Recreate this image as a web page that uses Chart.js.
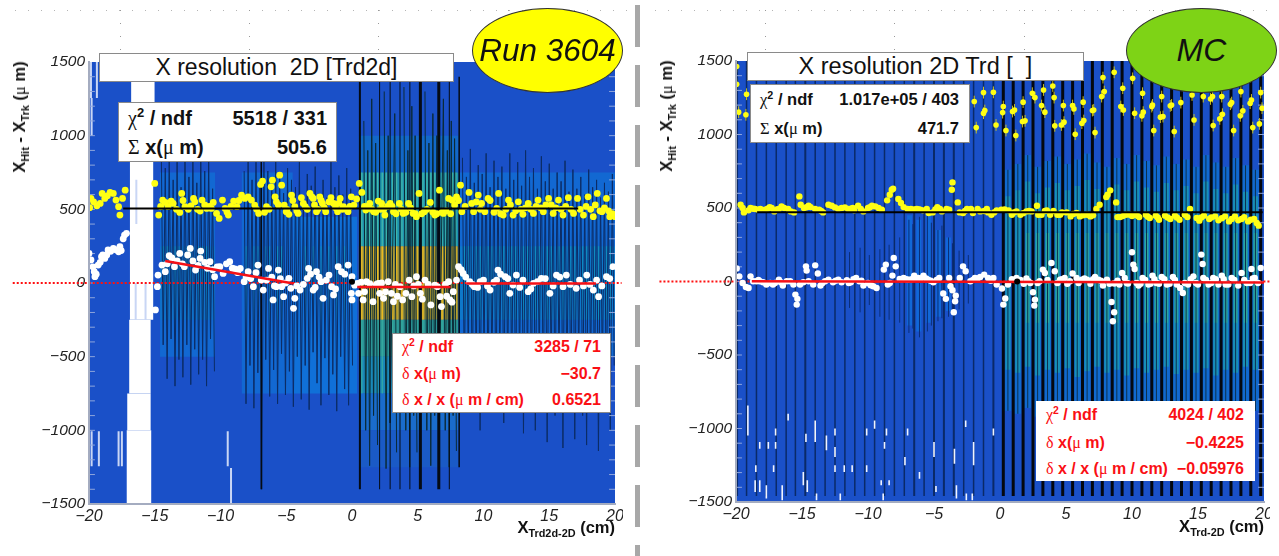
<!DOCTYPE html>
<html><head><meta charset="utf-8">
<script src="https://cdn.jsdelivr.net/npm/chart.js@4/dist/chart.umd.js"></script>
<style>
html,body{margin:0;padding:0;background:#fff;width:1279px;height:556px;overflow:hidden;font-family:"Liberation Sans",sans-serif}
.wrap{position:absolute;top:0;height:556px;overflow:hidden}
canvas{filter:blur(0.45px)}
.box{position:absolute;background:#fff;box-sizing:border-box;border:1px solid #8a8a8a;white-space:nowrap}
.title{display:flex;align-items:center;justify-content:center;color:#111;white-space:pre}
.row{position:absolute;left:0;right:0;font-weight:bold;line-height:1}
.row .l{position:absolute}.row .r{position:absolute}
.s{font-family:"Liberation Serif",serif;font-weight:normal}
sup{font-size:65%;line-height:0}
sub{font-size:66%;line-height:0}
.ell{position:absolute;border-radius:50%;box-sizing:border-box;border:1px solid #333;display:flex;align-items:center;justify-content:center;font-style:italic;color:#111}
.yt{position:absolute;transform:translate(-50%,-50%) rotate(-90deg);font-weight:bold;font-size:16.5px;white-space:nowrap;color:#111}
.xt{position:absolute;font-weight:bold;font-size:16.5px;white-space:nowrap;color:#111;text-align:right}
.div{position:absolute;left:635px;top:5px;width:5px;height:551px;background:repeating-linear-gradient(to bottom,#a8a8a8 0 42px,#fff 42px 60px)}
.dots{position:absolute;top:10px;height:1px;background:repeating-linear-gradient(to right,#b5b5b5 0 1px,transparent 1px 13px)}
.dotc{position:absolute;width:1px;height:40px;top:10px;background:repeating-linear-gradient(to bottom,#999 0 1px,transparent 1px 13px)}
</style></head><body>
<div class="wrap" style="left:0;width:623px"><canvas id="cL" width="632" height="556"></canvas></div>
<div class="wrap" style="left:640px;width:630px"><canvas id="cR" width="639" height="556"></canvas></div>
<div class="div"></div>
<div class="dots" style="left:15px;width:615px"></div><div class="dots" style="left:655px;width:620px"></div>
<div class="dotc" style="left:120px"></div><div class="dotc" style="left:249px"></div><div class="dotc" style="left:378px"></div><div class="dotc" style="left:508px"></div>
<div class="dotc" style="left:765px"></div><div class="dotc" style="left:894px"></div><div class="dotc" style="left:1024px"></div><div class="dotc" style="left:1153px"></div>

<div class="box title" style="left:99px;top:53px;width:355px;height:29px;font-size:23px">X resolution  2D [Trd2d]</div>
<div class="box title" style="left:747px;top:52px;width:337px;height:29px;font-size:23.5px">X resolution 2D Trd [  ]</div>
<div class="ell" style="left:472px;top:8px;width:151px;height:85px;background:#ffff00;font-size:31.5px">Run 3604</div>
<div class="ell" style="left:1126px;top:8px;width:151px;height:85px;background:#7ed316;font-size:32px">MC</div>

<div class="box" style="left:118px;top:102px;width:219px;height:60px;color:#111;font-size:20px">
 <div class="row" style="top:5px"><span class="l" style="left:9px"><span class="s">χ</span><sup>2</sup> / ndf</span><span class="r" style="right:9px">5518 / 331</span></div>
 <div class="row" style="top:34px"><span class="l" style="left:9px"><span class="s">Σ</span> x(<span class="s">μ</span> m)</span><span class="r" style="right:9px">505.6</span></div>
</div>
<div class="box" style="left:750px;top:84px;width:220px;height:59px;color:#111;font-size:16.5px">
 <div class="row" style="top:6px"><span class="l" style="left:9px"><span class="s">χ</span><sup>2</sup> / ndf</span><span class="r" style="right:10px">1.017e+05 / 403</span></div>
 <div class="row" style="top:35px"><span class="l" style="left:9px"><span class="s">Σ</span> x(<span class="s">μ</span> m)</span><span class="r" style="right:10px">471.7</span></div>
</div>
<div class="box" style="left:392px;top:333px;width:219px;height:80px;color:#fa0f14;font-size:16px">
 <div class="row" style="top:5px"><span class="l" style="left:9px"><span class="s">χ</span><sup>2</sup> / ndf</span><span class="r" style="right:9px">3285 / 71</span></div>
 <div class="row" style="top:32px"><span class="l" style="left:9px"><span class="s">δ</span> x(<span class="s">μ</span> m)</span><span class="r" style="right:9px">−30.7</span></div>
 <div class="row" style="top:58px"><span class="l" style="left:9px"><span class="s">δ</span> x / x (<span class="s">μ</span> m / cm)</span><span class="r" style="right:9px">0.6521</span></div>
</div>
<div class="box" style="left:1036px;top:401px;width:219px;height:80px;color:#fa0f14;font-size:16px;border-color:#fff">
 <div class="row" style="top:5px"><span class="l" style="left:9px"><span class="s">χ</span><sup>2</sup> / ndf</span><span class="r" style="right:10px">4024 / 402</span></div>
 <div class="row" style="top:33px"><span class="l" style="left:9px"><span class="s">δ</span> x(<span class="s">μ</span> m)</span><span class="r" style="right:10px">−0.4225</span></div>
 <div class="row" style="top:59px"><span class="l" style="left:9px"><span class="s">δ</span> x / x (<span class="s">μ</span> m / cm)</span><span class="r" style="right:10px">−0.05976</span></div>
</div>

<div class="yt" style="left:20px;top:117px">X<sub>Hit</sub> - X<sub>Trk</sub> (<span class="s">μ</span> m)</div>
<div class="yt" style="left:667px;top:116px">X<sub>Hit</sub> - X<sub>Trk</sub> (<span class="s">μ</span> m)</div>
<div class="xt" style="right:664px;top:518px">X<sub>Trd2d-2D</sub> (cm)</div>
<div class="xt" style="right:15px;top:517px">X<sub>Trd-2D</sub> (cm)</div>

<script>
/* ---------- LEFT PANEL: Run 3604 ---------- */
const leftYellowX=[-19.95,-19.85,-19.65,-19.4,-19.15,-19,-18.8,-18.6,-18.4,-18.15,-17.95,-17.75,-17.65,-17.45,-17.25,-15,-14.7,-14.4,-14.2,-13.75,-13.6,-13.1,-12.95,-12.7,-12.25,-12.05,-11.95,-11.55,-11.4,-11.05,-10.7,-10.55,-10.3,-10.1,-9.85,-9.65,-9.4,-9,-8.75,-8.4,-8.15,-7.9,-7.65,-7.4,-7.1,-6.95,-6.8,-6.5,-6.15,-6.05,-5.85,-5.75,-5.5,-5.35,-5.15,-5,-4.8,-4.6,-4.35,-4.1,-3.85,-3.55,-3.2,-2.95,-2.7,-2.45,-2.25,-2,-1.6,-1.4,-1.1,-0.9,-0.65,-0.3,-0.05,0.15,0.55,0.75,1.05,1.35,1.65,2,2.25,2.5,2.9,3.15,3.6,3.9,4.3,4.65,4.9,5.1,5.5,5.95,6.3,6.65,6.95,7.35,7.6,7.95,8.25,8.35,8.9,9.25,9.6,9.85,10.1,10.35,11,11.15,11.5,11.9,12.25,12.65,13,13.4,13.8,14.15,14.55,14.95,15.3,15.7,16.05,16.45,16.85,17.15,17.6,17.95,18.35,18.65,19,19.35,19.6,20];
const leftYellowY=[511,574,551,524,540,608,574,592,615,608,563,518,461,574,630,676,461,563,547,556,540,479,608,518,524,574,551,488,563,506,506,547,472,438,563,506,461,556,518,597,574,585,563,529,472,669,692,518,653,698,585,551,732,664,529,484,466,597,518,472,579,518,608,574,484,585,540,484,579,540,484,574,518,484,585,529,676,615,495,540,484,556,540,461,540,484,540,472,540,472,450,608,484,547,461,630,472,574,563,585,664,484,615,484,597,540,484,574,506,608,461,563,461,551,466,540,472,563,484,574,472,563,461,579,472,574,461,585,450,608,484,574,450,450];
const leftYellowMoreX=[-14.55,-14,-13.35,-12.85,-12.45,-11.75,-11.2,-10.85,-9.5,-9.2,-8.6,-7.25,-6.65,-6.3,-5.6,-4.95,-4.5,-4.2,-3.7,-3.4,-3.05,-2.85,-2.6,-2.35,-2.1,-1.75,-1.25,-1,-0.75,-0.45,-0.15,0.35,0.95,1.2,1.5,1.8,2.15,2.4,2.7,3.05,3.35,3.75,4.1,4.45,4.8,5.3,5.7,6.15,6.45,6.85,7.15,7.5,7.8,8.1,8.6,9.1,9.45,9.75,10.5,10.8,11.3,11.7,12.05,12.45,12.85,13.2,13.6,14,14.35,14.75,15.15,15.5,15.9,16.25,16.65,17.35,17.8,18.15,18.5,18.85,19.2,19.5,19.8];
const leftYellowMoreY=[520,520,500,560,500,500,530,520,480,520,560,500,480,500,530,500,560,490,540,500,585,530,500,560,510,550,510,540,500,500,520,570,520,520,500,480,500,500,520,520,470,500,480,510,470,470,500,480,470,480,490,470,530,560,520,540,550,500,560,480,470,500,530,490,500,510,500,520,510,530,530,510,500,520,500,500,520,500,530,490,510,490,470];
const leftWhiteX=[-20,-19.85,-19.6,-19.55,-19.3,-19.05,-18.8,-18.55,-18.15,-17.75,-17.65,-17.3,-17.15,-14.95,-14.8,-14.75,-14.45,-14.2,-13.9,-13.5,-13.1,-12.75,-12.3,-12.5,-11.9,-11.5,-11.55,-10.8,-10.45,-10.05,-9.8,-9.3,-8.9,-8.5,-8.2,-7.9,-7.5,-7.15,-6.75,-6.35,-6.5,-6,-5.6,-5.75,-5.2,-5.35,-4.8,-4.65,-4.45,-4.35,-3.95,-3.3,-3.4,-2.95,-2.7,-2.35,-2.2,-1.75,-1.4,-1.55,-1.05,-0.8,-0.3,-0.05,0,0,0.4,0.5,0.85,1.1,1.6,2,2.1,2.4,2.75,3,3.15,3.65,3.85,4.35,4.55,4.9,5.2,5.55,6,6.3,6.7,6.8,7.35,7.45,7.7,7.95,8.1,8.45,8.95,9.3,9.75,10.5,11.1,11,11.65,12,12.5,12.25,13.4,13.8,14.4,15.05,15.55,16.05,16.3,17.05,17.85,18.35,18.75,19.35,19.85];
const leftWhiteY=[201,156,77,43,122,178,167,224,235,212,246,325,337,-183,-25,54,122,77,185,111,201,111,235,190,88,217,167,145,43,111,65,145,95,99,9,77,-25,122,-48,99,20,-115,88,-25,-93,-25,32,-36,-172,-104,-48,99,32,-48,77,9,-104,54,-81,-25,111,77,122,-70,43,-115,-2,-70,-115,9,-127,-2,-70,-104,9,-70,-127,-25,-115,20,-93,43,-70,20,-149,-14,-93,-160,9,-115,-59,20,111,65,9,-25,9,-48,88,20,43,-70,54,-14,-59,-2,32,-70,54,-25,54,-36,54,-48,-93,43,111];
const leftWhiteMoreX=[-19.7,-19.45,-19.15,-18.95,-18.65,-18.35,-17.95,-17.55,-17.4,-14.05,-13.7,-13.3,-12.9,-12.1,-11.7,-11.2,-11,-10.6,-10.25,-9.55,-9.1,-8.7,-8.05,-7.7,-7.3,-6.9,-6.1,-5.9,-5.45,-5.05,-4.2,-3.7,-3.15,-2.8,-2.5,-1.95,-1.25,-0.55,0.2,0.7,0.95,1.35,1.85,2.25,2.55,3.3,3.45,4.1,4.7,5.05,5.35,5.8,6.5,7.1,7.2,7.6,8.3,8.65,9.15,9.55,10,10.3,10.8,11.3,11.85,12.75,13,13.6,14.1,14.7,15.3,15.8,16.6,17.3,17.6,18.1,18.6,19,19.6];
const leftWhiteMoreY=[110,60,140,190,190,215,225,220,300,130,170,150,130,150,120,140,100,90,110,130,100,70,40,30,70,20,40,-20,30,0,-20,-10,60,-30,40,20,-40,60,-15,5,-60,-5,-10,0,-60,-10,-90,-70,-20,-10,-110,-10,-25,-10,-90,-130,90,40,-10,-30,20,-20,5,60,30,-30,20,-40,10,30,-20,40,-10,20,-20,-10,20,-20,30];
const leftFitX=[[-14.2,-4.45],[0.4,7.5],[8.7,18.55]];
const leftFitY=[[150,-3],[-27,-27],[-4,-4]];
const leftMeanX=[-17.4,17.2], leftMeanY=[505.6,505.6];
const leftStatX=[0], leftStatY=[8];
const leftBandX0=[-14.6,-14.6,-8.4,-4.5,8.1,8.1,0.5,0.5,0.5,0.5,0.5,0.5,0.5];
const leftBandX1=[-10.4,-10.4,-4.5,0.4,20,20,8.1,8.1,8.1,8.1,8.1,8.1,8.1];
const leftBandY0=[-500,-250,-750,-750,-500,-250,750,250,-250,-500,-750,-1000,-1250];
const leftBandY1=[750,250,750,450,750,250,1000,750,250,-250,-500,-750,-1000];
const leftBandC=['#1268d2','#0f70c8','#1268d2','#1070d8','#1268d2','#0e78ca','#1268c8','#1c92ae','#8e8a3e','#2a9496','#1a88b8','#1a6ccc','#1a5ac6'];
const leftHoleX0=[-16.8,-16.9,-16.95,-17.1,-17.15];
const leftHoleX1=[-15,-15.1,-15.3,-15.3,-15.25];
const leftHoleY0=[1200,-250,-750,-1000,-1500];
const leftHoleY1=[1500,1200,-250,-750,-1000];
const leftStreakX=[-19.85,-19.4,-19.8,-19.8,-19.25,-17.75,-17.5,-9.45,-9.2,-16.45,-15.7,-16.4];
const leftStreakY0=[1255,1255,1000,-1243,-1243,-1243,-1243,-1243,-1493,-250,-250,400];
const leftStreakY1=[1500,1500,1255,-1006,-1006,-1006,-1006,-1006,-1255,0,0,700];
const leftSpikeX=[-14.5,-14.2,-13.9,-13.6,-13.3,-13,-12.7,-12.4,-12.1,-11.8,-11.5,-11.2,-10.9,-10.6,-8.2,-7.9,-7.6,-7.3,-7,-6.7,-6.4,-6.1,-5.8,-5.5,-5.2,-4.9,-4.6,-4.3,-4,-3.7,-3.4,-3.1,-2.8,-2.5,-2.2,-1.9,-1.6,-1.3,-1,-0.7,-0.4,-0.1,8.4,8.7,9,9.3,9.6,9.9,10.2,10.5,10.8,11.1,11.4,11.7,12,12.3,12.6,12.9,13.2,13.5,13.8,14.1,14.4,14.7,15,15.3,15.6,15.9,16.2,16.5,16.8,17.1,17.4,17.7,18,18.3,18.6,18.9,19.2,19.5,19.8];
const leftSpikeHi=[900,780,880,700,820,650,880,720,850,680,910,760,830,640,760,880,700,820,650,900,760,690,840,720,610,780,700,650,820,590,740,660,790,610,700,580,820,650,730,600,780,640,850,720,910,680,800,740,880,650,830,720,790,640,880,700,820,660,900,720,780,640,860,690,810,640,750,690,830,620,770,640,720,600,770,650,700,580,680,620,740];
const leftSpikeLo=[-420,-650,-380,-700,-520,-640,-420,-690,-450,-620,-520,-700,-380,-600,-820,-560,-850,-610,-1400,-520,-770,-590,-820,-480,-760,-600,-840,-500,-790,-560,-860,-470,-680,-830,-510,-760,-620,-870,-500,-720,-830,-560,-700,-520,-800,-600,-1000,-520,-760,-620,-880,-540,-950,-620,-720,-860,-560,-1020,-600,-780,-1000,-540,-820,-1080,-620,-900,-560,-1120,-700,-880,-1060,-540,-900,-1100,-620,-760,-1140,-600,-840,-1000,-560];
const leftTealX=[-14.35,-14.05,-13.45,-13.15,-12.55,-12.25,-11.65,-11.35,-11.05,-8.05,-7.45,-7.15,-6.55,-6.25,-5.65,-5.35,-3.55,-2.95,-2.35,-1.75,-1.15,-0.55,8.55,8.85,9.45,9.75,10.35,10.65,11.25,11.55,12.15,12.45,13.05,13.35,13.95,14.25,14.85,15.15,15.75,16.05,16.65,16.95,17.55,17.85,18.45,18.75,19.35,19.65];
const leftGoldX=[0.75,1.05,1.35,1.65,1.95,2.3,2.6,3.1,3.4,3.8,4.1,4.7,4.95,5.4,5.7,6,6.3,6.85,7.15,7.65,7.9];
const leftThinX=[0.9,1.2,1.5,1.8,2.45,2.75,3.25,3.95,4.25,4.55,4.8,5.55,5.85,6.15,6.45,6.95,7.25,7.55,7.8];
const leftThinHi=[1100,900,1250,950,1300,1000,1150,1330,900,1200,1000,1300,950,1150,1000,1250,900,1100,980];
const leftThinLo=[-1000,-1240,-900,-1100,-1260,-950,-1150,-1000,-1250,-900,-1150,-1000,-1240,-900,-1120,-1000,-1250,-900,-1140];
const leftBlackX=[0.6,2.1,2.9,3.65,4.4,5.2,6.6,7.4,8.15,-6.9];
const leftBlackHi=[1400,1400,1400,1400,1400,1400,1400,1400,1400,1000];
const leftBlackLo=[-1400,-1400,-1400,-1400,-1400,-1400,-1400,-1400,-1250,-1400];
const leftBlackW=[2,1,1,1,1,3,3,1,1.5,1.5];

/* ---------- RIGHT PANEL: MC ---------- */
const rightYellowX=[-19.65,-19.5,-19.4,-19.05,-18.9,-18.55,-18.3,-18.15,-17.8,-17.45,-17.3,-17.1,-16.75,-16.55,-16.35,-16.05,-15.85,-15.6,-15.2,-15.1,-14.85,-14.5,-14.35,-14,-13.7,-13.4,-13,-12.75,-12.5,-12.25,-12,-11.75,-11.5,-11.15,-11.05,-10.75,-10.55,-10.35,-10,-9.7,-9.45,-9.2,-8.95,-8.55,-8.35,-8.2,-8.1,-7.7,-7.5,-7.3,-7,-6.75,-6.3,-6.05,-5.85,-5.55,-5.4,-5.1,-4.75,-4.55,-4.4,-4.05,-3.85,-3.65,-3.6,-3.2,-3.05,-2.8,-2.5,-2.2,-2.05,-1.7,-1.5,-1,-0.9,-0.65,-0.25,0.1,0.65,0.9,1.25,1.55,2,2.4,2.8,2.9,3.15,3.55,3.8,4.35,4.55,5.05,5.35,5.8,6.05,6.6,6.85,7.3,7.55,8.05,8.15,8.35,8.8,8.9,9.1,9.55,9.85,10.25,10.55,11.05,11.35,11.8,12.05,12.5,12.9,13.25,13.6,14,14.2,14.4,14.9,15.1,15.45,15.85,16.3,16.55,17.05,17.35,17.8,18.05,18.5,18.8,19.25,19.45,19.6];
const rightYellowY=[522,500,470,484,500,493,488,493,488,506,500,477,493,511,500,493,477,470,579,522,500,515,506,493,488,470,522,515,504,493,500,504,493,500,484,515,493,477,500,515,511,500,488,552,590,624,631,561,534,506,493,493,493,488,484,493,466,470,506,493,477,493,488,624,674,538,470,466,493,493,466,493,477,493,470,454,484,488,484,454,477,454,477,477,515,454,454,484,454,454,454,470,443,466,443,454,443,493,522,574,590,620,538,438,438,454,454,454,438,454,432,448,420,448,425,448,420,454,438,493,432,414,448,425,443,416,443,409,443,416,438,409,425,398,380];
const rightYellowMoreX=[-18.7,-17.6,-16.9,-14.65,-13.55,-11.3,-9.85,-6.5,-6.15,-4.9,-2.65,-1.2,-0.45,0.35,1.05,1.75,2.2,3.4,4.05,4.7,5.55,6.3,7.05,9.3,10,10.45,11.2,11.95,12.7,13.4,15.25,16,16.8,17.55,18.3,19];
const rightYellowMoreY=[495,495,490,505,480,495,505,490,490,490,480,480,470,490,470,465,480,480,480,470,460,450,450,445,445,445,440,435,435,435,435,435,430,425,425,420];
const rightHighX=[-19.95,-19.95,-19.2,-19.8,-19.25,-1.95,-1.8,-1.25,-1.25,-1.15,-0.5,-0.3,0.25,0.2,0.45,0.95,1.1,1.2,1.75,1.7,1.9,2.45,2.65,3.15,3.3,3.4,4,4.1,4.15,4.65,4.85,4.8,5.5,5.6,5.7,6.2,6.35,6.3,7,7.1,7.2,7.7,7.9,7.8,8.65,9.3,9.15,9.35,10.2,10.05,10.75,10.85,10.8,11.5,11.55,11.65,12.25,12.15,12.35,13,12.9,13.2,13.7,14.55,14.7,15.4,15.95,16.1,16.15,16.65,16.8,16.85,17.45,17.55,17.7,18.2,18.25,18.4,19.05,18.95,19.15,19.65,19.75,19.85];
const rightHighY=[1462,1342,1274,1152,1134,1224,1047,1285,1145,1163,1287,1065,1190,1149,1027,1156,1167,993,1220,1088,1093,1281,1251,1197,1303,1152,1330,1251,1059,1065,1084,1197,1197,1174,1002,1077,1095,1220,1163,1167,1013,1258,1292,1387,1423,1315,1190,1167,1145,1382,1127,1152,1281,1190,1201,1027,1258,1118,1122,1201,1195,1020,1217,1269,1099,1258,1242,1258,1061,1106,1258,1138,1206,1217,1027,1127,1292,1161,1235,1213,1047,1072,1285,1179];
const rightHighErr=40;
const rightWhiteX=[-19.95,-19.75,-19.5,-19.25,-19.05,-18.9,-18.7,-18.45,-18.2,-17.95,-17.7,-17.4,-17.2,-16.75,-16.45,-16.15,-15.9,-15.65,-15.5,-15.35,-15.4,-15.15,-14.7,-14.65,-14.5,-14.15,-14,-13.8,-13.6,-13.25,-13,-12.65,-12.25,-12,-11.6,-11.3,-10.9,-10.65,-10.35,-10,-9.6,-9.35,-8.8,-8.65,-8.35,-8.15,-8.05,-7.9,-7.6,-7.3,-6.95,-6.5,-6.2,-5.8,-5.45,-5.05,-4.6,-4.3,-4.1,-3.85,-3.75,-3.6,-3.35,-3.4,-3.5,-3.05,-2.8,-2.6,-2.25,-1.9,-1.5,-1.2,-0.9,-0.5,-0.25,0.15,0.4,0.25,1.25,2.15,2.5,2.65,2.6,3,3.25,3.4,3.9,4.15,4.55,4.9,5.3,5.5,5.8,6.2,6.6,7.2,7.45,7.8,8.1,8.45,8.65,8.55,8.65,9.05,9.25,9.45,9.7,10,10.1,10.2,10.5,10.8,11.25,11.55,11.85,12.25,12.65,13.1,13.4,13.65,13.85,14.25,14.65,15,15.25,15.35,15.4,15.8,16.15,16.55,16.8,17.3,17.55,18.05,18.3,18.7,19.05,19.3,19.55,19.75];
const rightWhiteY=[88,35,-10,-37,-44,35,2,2,2,-5,-21,-10,-21,13,-28,2,2,-21,-89,-118,-157,-21,103,74,2,-21,110,54,-28,2,13,-5,13,-5,8,-5,24,2,-28,-10,-32,-44,81,115,-10,40,160,103,17,24,13,40,24,40,13,-5,24,-82,-118,24,-32,-60,-96,-134,-209,24,103,70,2,24,31,47,24,24,-21,-48,-116,-157,24,2,-73,-123,-164,2,81,58,126,70,13,24,2,54,24,13,13,31,13,-28,13,-139,-209,-270,-14,-21,58,24,-14,199,115,85,-28,24,-21,40,-10,31,-21,31,-21,-44,-78,-21,35,-21,183,119,24,-21,24,-21,40,-21,24,-28,58,-10,85,24,-10,92];
const rightWhiteMoreX=[-18.3,-17.05,-16.6,-14.9,-13.45,-12.45,-11.45,-11.1,-10.5,-9.8,-8.5,-7.45,-7.1,-6.7,-6.35,-6,-5.6,-5.25,-4.8,-2.05,-1.7,-0.7,0.6,0.9,1.55,1.8,2,2.3,2.85,3.6,4.35,4.7,5.1,5.95,6.4,6.85,7.05,7.65,8.3,8.9,9.6,10.35,10.65,11,11.4,11.7,12.05,12.45,12.85,13.25,14,14.45,14.85,15.6,16,16.35,16.95,17.1,17.75,18.5,18.95,19.15];
const rightWhiteMoreY=[10,-10,-5,-5,-10,5,-10,15,5,-25,-20,15,15,15,20,20,20,5,10,10,20,5,-20,15,10,-15,20,-10,-10,10,-10,15,-15,-10,20,-15,15,5,-15,5,-10,-10,-15,10,-15,15,-15,15,-15,10,-10,15,-10,10,-10,15,15,-20,10,10,-10,20];
const rightFitX=[-18.8,20], rightFitY=[2,-6];
const rightMeanX=[-18.4,19.9], rightMeanY=[471.7,471.7];
const rightStatX=[1.3], rightStatY=[0];
const rightBlackX=[-19.9,-19.2,-18.45,-17.7,-16.95,-16.2,-15.5,-14.75,-14,-13.25,-12.5,-11.75,-11,-10.25,-9.5,-8.75,-8,-7.25,-6.5,-5.75,-5,-4.25,-3.5,-2.75,-2,-1.25,-0.5,0.25,1,1.75,2.5,3.25,4,4.75,5.5,6.25,7,7.75,8.5,9.25,10,10.75,11.5,12.25,13,13.75,14.5,15.25,16,16.75,17.5,18.25,19,19.75];
const rightBlackW=[1.5,1.5,1.5,1.5,1.5,1.5,1.5,2,1.5,1.5,1.5,1.5,1.5,1.5,1.5,1.5,1.5,1.5,2,1.5,2,2,2,1.5,1.5,1.5,2,3,3,3,3,3,3,3,3,3,3,3,3,3,3,3,3,3,3,3,3,3,3,3,3,3,3,3];
const rightStripeX=[0.6,1.35,2.1,2.85,3.6,4.35,5.1,5.85,6.6,7.35,8.1,8.85,9.6,10.35,11.1,11.85,12.6,13.35,14.1,14.85,15.6,16.35,17.1,17.85,18.6,19.35];
const rightStripeHi=[760,800,860,780,820,850,800,830,870,810,780,840,800,860,820,790,850,800,830,780,860,810,780,840,790,760];
const rightStripeLo=[-880,-900,-860,-920,-880,-900,-870,-930,-890,-860,-900,-880,-920,-870,-900,-880,-860,-910,-880,-900,-870,-920,-880,-900,-860,-880];
const rightDimX=[-6.85,-6.15,-5.4,-4.65,-3.9];
const rightDimHi=[450,420,460,350,300];
const rightDimLo=[-300,-340,-280,-240,-200];
const rightSquigX=[-11.4,-10.6,-9.9,-9.1,-8.4,-7.6,-6.9,-6.6,-6.1,-5.5,-5.2,-4.7,-4.4,-3.9,-3.6,-3.1,-2.4];
const rightSquigHi=[200,230,180,220,250,300,420,390,440,460,400,350,380,300,260,210,180];
const rightSquigLo=[-180,-210,-160,-240,-260,-280,-350,-320,-380,-340,-300,-270,-250,-240,-220,-190,-150];
const rightStreakX=[-19.1,-18.2,-17.55,-17,-17,-16.05,-14,-14.7,-13.15,-12.5,-12.5,-9.5,-10.1,-8.75,-8.6,-7,-7.2,-5,-3.45,-2.6,-2,-0.5,-18.5,-17.15,-18.55,-18.2,-17.7,-16.5,-14.9,-14.6,-12.5,-11.8,-11.2,-10.1,-9,-8.4,-6.1,-4.85,-3.3,-2.55,-2.1,-8.85,-12.1,-13.9,-16.5];
const rightStreakY0=[-1047,-1137,-1137,-1047,-1137,-945,-1092,-1092,-1148,-1047,-1194,-1002,-1047,-1137,-1047,-1047,-1250,-1194,-1240,-990,-1250,-1047,-1296,-1296,-1432,-1432,-1477,-1443,-1386,-1432,-1296,-1296,-1296,-1296,-1386,-1386,-1341,-1432,-1477,-1488,-1488,-1488,-1488,-1488,-1488];
const rightStreakY1=[-843,-1092,-1092,-1000,-1092,-900,-945,-1035,-1047,-1000,-1126,-945,-1000,-1092,-1000,-1000,-1194,-1092,-1137,-945,-1092,-1000,-1250,-1250,-1352,-1352,-1386,-1386,-1296,-1352,-1250,-1250,-1250,-1250,-1352,-1352,-1296,-1392,-1386,-1443,-1443,-1443,-1443,-1443,-1443];
const tickY=[-1400,-1300,-1200,-1100,-1000,-900,-800,-700,-600,-500,-400,-300,-200,-100,0,100,200,300,400,500,600,700,800,900,1000,1100,1200,1300,1400];

/* ---------- helpers ---------- */
const BLUE='#1a50c8';
const pts=(xs,ys)=>xs.map((x,i)=>({x,y:ys[i]}));
const band=(x0,x1,y0,y1,c)=>({type:'line',data:[{x:x0,y:y1},{x:x1,y:y1}],fill:{value:y0},backgroundColor:c,borderWidth:0,pointRadius:0});
const segs=(xs,lo,hi,c,w)=>{const d=[];xs.forEach((x,i)=>{d.push({x,y:lo[i]},{x,y:hi[i]},{x,y:null});});
  return {type:'line',data:d,borderColor:c,borderWidth:w,pointRadius:0,spanGaps:false};};
/* saw-tooth contour through the same spike values: down to lo, up to hi, broken where the heat map has a gap */
const teeth=(xs,lo,hi,c,w)=>{const d=[];xs.forEach((x,i)=>{if(i&&x-xs[i-1]>0.6)d.push({x,y:null});d.push({x,y:hi[i]},{x:x+0.14,y:lo[i]});});
  return {type:'line',data:d,borderColor:c,borderWidth:w,pointRadius:0,spanGaps:false};};
const flat=(xs,v)=>xs.map(()=>v);
const line=(xs,ys,c,w,extra)=>Object.assign({type:'line',data:pts(xs,ys),borderColor:c,borderWidth:w,pointRadius:0},extra||{});
const dots=(xs,ys,c,r)=>({type:'line',showLine:false,data:pts(xs,ys),backgroundColor:c,borderWidth:0,pointRadius:r,pointBorderWidth:0,pointBackgroundColor:c});
const hticks=(x0,x1)=>{const d=[];tickY.forEach(y=>{d.push({x:x0,y},{x:x1,y},{x:x0,y:null});});
  return {type:'line',data:d,borderColor:'#8fa6dc',borderWidth:1,pointRadius:0};};
const zeroLine=(x0)=>({type:'line',data:[{x:x0,y:0},{x:20.5,y:0}],borderColor:'#ff1010',borderWidth:2,borderDash:[2,2],pointRadius:0,clip:false});

function make(id,ds,yW,top,botH,right){
  ds.forEach((d,i)=>{d.order=-i;d.tension=0;});
  return new Chart(document.getElementById(id),{
    data:{datasets:ds},
    options:{responsive:false,animation:false,devicePixelRatio:1,
      layout:{padding:{top:top,right:right,left:0,bottom:0}},
      plugins:{legend:{display:false},tooltip:{enabled:false},title:{display:false}},
      events:[],
      scales:{
        x:{type:'linear',min:-20,max:20,
          ticks:{stepSize:5,maxRotation:0,autoSkip:false,padding:3,color:'#222',font:{family:'"Liberation Sans"',size:16,style:'italic'},
             callback:v=>v<0?'−'+Math.abs(v):String(v)},
          grid:{display:false,drawTicks:false},border:{display:true,color:'#a4acc0',width:2,z:1},
          afterFit:s=>{s.height=botH;}},
        y:{type:'linear',min:-1500,max:1500,
          ticks:{stepSize:500,padding:4,color:'#222',font:{family:'"Liberation Sans"',size:15.5,style:'italic'},
             callback:v=>v<0?'−'+Math.abs(v):String(v)},
          grid:{display:false,drawTicks:false},border:{display:true,color:'#a4acc0',width:2,z:1},
          afterFit:s=>{s.width=yW;}}
      }}});
}

/* ---------- left datasets ---------- */
const L=[];
L.push(band(-20,20,-1500,1500,BLUE));
leftBandX0.forEach((_,i)=>L.push(band(leftBandX0[i],leftBandX1[i],leftBandY0[i],leftBandY1[i],leftBandC[i])));
L.push(segs(leftTealX,flat(leftTealX,-250),flat(leftTealX,250),'#0f8cc0',1.2));
L.push(segs(leftGoldX,flat(leftGoldX,-250),flat(leftGoldX,250),'#eabb22',1.5));
L.push(segs(leftGoldX,flat(leftGoldX,250),flat(leftGoldX,750),'#4cc0a8',1));
L.push(segs(leftGoldX,flat(leftGoldX,-750),flat(leftGoldX,-250),'#38b0a0',1));
L.push(teeth(leftSpikeX,leftSpikeLo,leftSpikeHi,'#0b2c66',1));
L.push(teeth(leftThinX,leftThinLo,leftThinHi,'#0a2a38',1));
leftBlackX.forEach((x,i)=>L.push(segs([x],[leftBlackLo[i]],[leftBlackHi[i]],'#050b14',leftBlackW[i])));
leftHoleX0.forEach((_,i)=>L.push(band(leftHoleX0[i],leftHoleX1[i],leftHoleY0[i],leftHoleY1[i],'#ffffff')));
L.push(segs(leftStreakX,leftStreakY0,leftStreakY1,'#c9d6f5',2));
L.push(hticks(-20,-19.55),hticks(19.55,20));
L.push(zeroLine(-25.8));
L.push(dots(leftYellowX,leftYellowY,'#ffff14',3.4));
L.push(dots(leftYellowMoreX,leftYellowMoreY,'#ffff14',3.4));
L.push(dots(leftWhiteX,leftWhiteY,'#ffffff',3.4));
L.push(dots(leftWhiteMoreX,leftWhiteMoreY,'#ffffff',3.4));
L.push(dots(leftStatX,leftStatY,'#000',3));
L.push(line(leftMeanX,leftMeanY,'#000',2));
leftFitX.forEach((xs,i)=>L.push(line(xs,leftFitY[i],'#f51016',2.5)));
make('cL',L,89,62,52,17);

/* ---------- right datasets ---------- */
const R=[];
R.push(band(-20,20,-1500,1500,BLUE));
R.push(segs(rightStripeX,rightStripeLo,rightStripeHi,'#1169ce',7));
R.push(segs(rightStripeX,rightStripeLo.map(v=>v+280),rightStripeHi.map(v=>v-180),'#188fb6',5));
R.push(segs(rightStripeX.slice(2),flat(rightStripeX.slice(2),-280),flat(rightStripeX.slice(2),330),'#2ea89c',3));
R.push(segs(rightDimX,rightDimLo,rightDimHi,'#1168d8',5));
R.push(segs(rightSquigX,rightSquigLo,rightSquigHi,'#0b2e78',1));
R.push(segs(rightStripeX,rightStripeLo,rightStripeHi,'#0b3050',1));
rightBlackX.forEach((x,i)=>R.push(segs([x],[-1460],[1500],x<0?'#0a2a68':'#04080f',rightBlackW[i])));
R.push(segs(rightStreakX,rightStreakY0,rightStreakY1,'#f0f4ff',1.6));
R.push(hticks(-20,-19.55),hticks(19.55,20));
R.push(zeroLine(-25.8));
R.push(segs(rightHighX,rightHighY.map(v=>v-rightHighErr),rightHighY.map(v=>v+rightHighErr),'#c8c020',1));
R.push(dots(rightHighX,rightHighY,'#ffff14',2.8));
R.push(dots(rightYellowX,rightYellowY,'#ffff14',3.2));
R.push(dots(rightYellowMoreX,rightYellowMoreY,'#ffff14',3.2));
R.push(dots(rightWhiteX,rightWhiteY,'#ffffff',3.2));
R.push(dots(rightWhiteMoreX,rightWhiteMoreY,'#ffffff',3.2));
R.push(line(rightMeanX,rightMeanY,'#000',2));
R.push(line(rightFitX,rightFitY,'#f51016',2.5));
R.push(dots(rightStatX,rightStatY,'#000',3));
make('cR',R,96,61,54,15);
</script>
</body></html>
